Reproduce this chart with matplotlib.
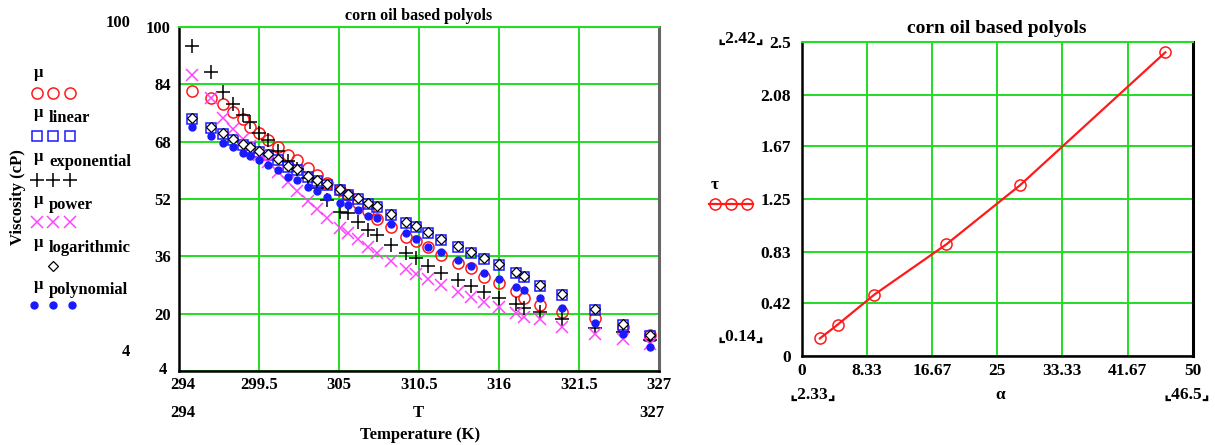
import numpy as np
import matplotlib.pyplot as plt
from matplotlib.transforms import ScaledTranslation

plt.rcParams['font.family'] = ['Liberation Serif', 'DejaVu Serif']
plt.rcParams['font.weight'] = 'bold'

# temperatures (K)
T = [294.9, 296.2, 297.0, 297.7, 298.4, 298.9, 299.5, 300.1, 300.8, 301.5,
     302.1, 302.9, 303.5, 304.2, 305.1, 305.6, 306.3, 307.0, 307.6, 308.6,
     309.6, 310.3, 311.1, 312.0, 313.2, 314.1, 315.0, 316.0, 317.2, 317.7,
     318.8, 320.3, 322.6, 324.5, 326.4]

# measured viscosity (cP)
mu = [82.2, 80.3, 78.5, 76.4, 74.2, 72.2, 70.4, 68.5, 66.6, 64.3,
      62.9, 60.6, 58.7, 56.4, 54.6, 53.0, 51.0, 48.6, 46.3, 44.1,
      41.5, 40.4, 38.5, 36.4, 34.2, 32.7, 30.3, 28.5, 26.4, 24.3,
      22.4, 20.5, 18.7, 16.4, 14.0]

mu_linear = [74.2, 71.9, 70.1, 68.5, 67.1, 66.1, 65.1, 64.2, 62.9, 61.0,
             60.1, 58.2, 57.0, 55.9, 54.5, 53.1, 51.9, 50.6, 49.7, 47.5,
             45.4, 44.1, 42.6, 40.6, 38.7, 37.0, 35.2, 33.6, 31.3, 30.1,
             27.7, 25.2, 21.0, 16.8, 13.8]

mu_exponential = [94.7, 87.5, 82.0, 78.5, 75.4, 73.6, 70.3, 68.5, 65.5, 62.5,
                  60.3, 58.0, 55.0, 51.7, 48.5, 48.0, 45.7, 43.3, 41.9, 39.2,
                  36.8, 35.4, 33.3, 31.3, 29.4, 27.7, 26.1, 24.3, 22.7, 21.5,
                  20.5, 18.4, 15.9, 15.0, 12.6]

mu_power = [86.6, 80.1, 74.5, 71.5, 68.8, 66.8, 64.3, 62.2, 59.5, 56.8,
            54.2, 51.5, 49.3, 46.6, 43.8, 42.6, 40.7, 38.5, 37.0, 34.8,
            32.5, 31.2, 29.7, 28.0, 26.1, 24.6, 23.3, 21.8, 20.1, 19.2,
            18.4, 16.3, 14.4, 12.8, 11.5]

mu_logarithmic = [74.5, 72.2, 70.4, 68.8, 67.4, 66.4, 65.4, 64.5, 63.2, 61.3,
                  60.4, 58.5, 57.3, 56.2, 54.8, 53.4, 52.2, 50.9, 50.0, 47.8,
                  45.7, 44.4, 42.9, 40.9, 39.0, 37.3, 35.5, 33.9, 31.6, 30.4,
                  28.0, 25.5, 21.3, 17.1, 14.1]

mu_polynomial = [72.0, 69.6, 67.7, 66.4, 64.7, 63.9, 62.8, 61.5, 60.1, 58.2,
                 57.3, 55.4, 54.2, 52.6, 51.0, 50.3, 48.9, 47.2, 46.6, 45.0,
                 42.4, 40.7, 38.7, 37.3, 35.0, 33.3, 31.4, 29.7, 27.5, 26.6,
                 24.3, 21.5, 17.3, 14.3, 10.6]

left_xticks = [294, 299.5, 305, 310.5, 316, 321.5, 327]
left_xlabels = ['294', '299.5', '305', '310.5', '316', '321.5', '327']
left_yticks = [4, 20, 36, 52, 68, 84, 100]

# right chart
alpha = [2.33, 4.6, 9.3, 18.5, 27.9, 46.5]
tau = [0.14, 0.25, 0.49, 0.89, 1.36, 2.42]
right_xticks = [0, 8.33, 16.67, 25, 33.33, 41.67, 50]
right_yticks = [0, 0.42, 0.83, 1.25, 1.67, 2.08, 2.5]
right_xlabels = ['0', '8.33', '16.67', '25', '33.33', '41.67', '50']
right_ylabels = ['0', '0.42', '0.83', '1.25', '1.67', '2.08', '2.5']

GREEN = '#22dd22'
RED = '#ff1a1a'
BLUE = '#1a1aff'
MAG = '#ff44ff'
FS = 11.5
FS_L = 12
FS_R = 12.5
CORNER_FAMILY = ['Liberation Serif', 'DejaVu Sans', 'Noto Sans CJK SC', 'Noto Sans']

fig = plt.figure(figsize=(12.15, 4.45), dpi=100)
W, H = 1215.0, 445.0


def frame(ax, right_color, fs):
    for s in ['left', 'bottom']:
        ax.spines[s].set_color('black')
        ax.spines[s].set_linewidth(1.8)
    ax.spines['right'].set_color(right_color)
    ax.spines['right'].set_linewidth(2.2)
    ax.spines['top'].set_color(GREEN)
    ax.spines['top'].set_linewidth(1.5)
    ax.grid(True, color=GREEN, linewidth=1.4)
    ax.set_axisbelow(True)
    ax.tick_params(length=0, labelsize=fs)
    for lab in ax.get_xticklabels() + ax.get_yticklabels():
        lab.set_fontweight('bold')


# ---- left chart
ax1 = fig.add_axes([179 / W, 1 - 371 / H, 480 / W, 344 / H])
ax1.plot(T, mu, 'o', ms=8, mfc='none', mec=RED, mew=1.1)
ax1.plot(T, mu_linear, 's', ms=7.5, mfc='none', mec=BLUE, mew=1.1)
ax1.plot(T, mu_exponential, '+', ms=10, color='black', mew=1.1)
ax1.plot(T, mu_power, 'x', ms=8.5, color=MAG, mew=1.1)
ax1.plot(T, mu_logarithmic, 'D', ms=5.5, mfc='white', mec='black', mew=0.9)
ax1.plot(T, mu_polynomial, 'o', ms=5, color=BLUE, mec=BLUE)
ax1.set_xlim(294, 327)
ax1.set_ylim(4, 100)
ax1.set_xticks(left_xticks)
ax1.set_xticklabels(left_xlabels)
ax1.set_yticks(left_yticks)
ax1.set_yticklabels([str(v) for v in left_yticks])
ax1.tick_params(axis='y', pad=6)
ax1.tick_params(axis='x', pad=4)
frame(ax1, '#666666', FS_L)
ax1.set_title('corn oil based polyols', fontsize=FS, fontweight='bold', pad=5)

# Mathcad puts the bottom-left corner labels slightly apart
ylab0 = ax1.get_yticklabels()[0]
ylab0.set_transform(ylab0.get_transform() + ScaledTranslation(-4 / 100, 3 / 100, fig.dpi_scale_trans))
xlab0 = ax1.get_xticklabels()[0]
xlab0.set_transform(xlab0.get_transform() + ScaledTranslation(4 / 100, 0, fig.dpi_scale_trans))

# ---- right chart
ax2 = fig.add_axes([801.7 / W, 1 - 356 / H, 391 / W, 313.7 / H])
ax2.plot(alpha, tau, '-', color=RED, lw=1.6)
ax2.plot(alpha, tau, 'o', ms=8, mfc='none', mec=RED, mew=1.1)
ax2.set_xlim(0, 50)
ax2.set_ylim(0, 2.5)
ax2.set_xticks(right_xticks)
ax2.set_xticklabels(right_xlabels)
ax2.set_yticks(right_yticks)
ax2.set_yticklabels(right_ylabels)
ax2.tick_params(axis='y', pad=8)
ax2.tick_params(axis='x', pad=5)
frame(ax2, 'black', FS_R)
ax2.set_title('corn oil based polyols', fontsize=14, fontweight='bold', pad=7)

# ---- overlay in pixel coordinates for Mathcad-style labels and legend
ov = fig.add_axes([0, 0, 1, 1], zorder=5)
ov.set_xlim(0, W)
ov.set_ylim(H, 0)
ov.axis('off')
ov.patch.set_alpha(0)


def txt(x, y, s, ha='center', fs=FS_L, **kw):
    ov.text(x, y, s, ha=ha, va='center', fontsize=fs, fontweight='bold', **kw)


txt(118, 23, '100')
txt(126, 352, '4')
txt(183, 413, '294')
txt(418, 413, 'T')
txt(652, 413, '327')
txt(420, 435, 'Temperature (K)')
txt(18, 197, 'Viscosity (cP)', rotation=90)

legend_rows = [
    ('', 77, dict(marker='o', ms=8, mfc='none', mec=RED, mew=1.1, ls='none'), 93, [37, 53, 70]),
    ('linear', 117, dict(marker='s', ms=7.5, mfc='none', mec=BLUE, mew=1.1, ls='none'), 136, [37, 53, 70]),
    ('exponential', 161, dict(marker='+', ms=10, color='black', mew=1.1, ls='none'), 180, [37, 53, 70]),
    ('power', 204, dict(marker='x', ms=8.5, color=MAG, mew=1.1, ls='none'), 222, [37, 53, 70]),
    ('logarithmic', 247, dict(marker='D', ms=5.5, mfc='white', mec='black', mew=0.9, ls='none'), 266, [53]),
    ('polynomial', 289, dict(marker='o', ms=5, color=BLUE, ls='none'), 305, [34, 53, 72]),
]
for name, ty, style, my, xs in legend_rows:
    txt(39, ty - 4, '\u03bc')
    if name:
        txt(49, ty + 1, name, ha='left')
    ov.plot(xs, [my] * len(xs), **style)

# right chart extra labels
txt(741, 39, '\u231e2.42\u231f', fs=FS_R, family=CORNER_FAMILY)
txt(741, 337, '\u231e0.14\u231f', fs=FS_R, family=CORNER_FAMILY)
txt(813, 395, '\u231e2.33\u231f', fs=FS_R, family=CORNER_FAMILY)
txt(1000, 395, '\u03b1', fs=FS_R)
txt(1187, 395, '\u231e46.5\u231f', fs=FS_R, family=CORNER_FAMILY)
txt(715, 185, '\u03c4', fs=FS_R)
ov.plot([709, 753], [204, 204], '-', color=RED, lw=1.6)
ov.plot([715, 731, 747], [204, 204, 204], 'o', ms=8, mfc='none', mec=RED, mew=1.1)

fig.savefig('out.png', dpi=100)
